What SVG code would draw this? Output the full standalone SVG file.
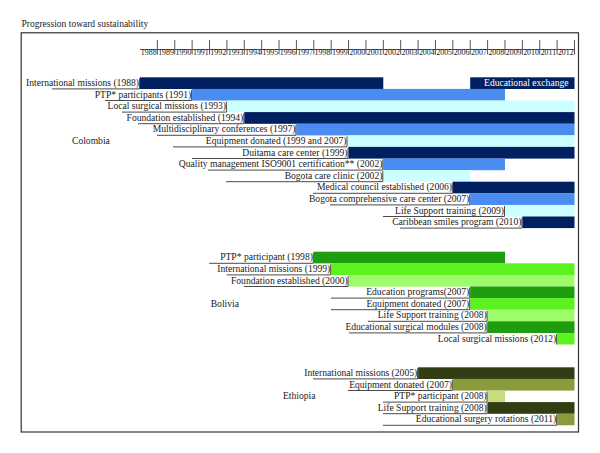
<svg xmlns="http://www.w3.org/2000/svg" width="600" height="453" viewBox="0 0 600 453">
<style>
text{font-family:"Liberation Serif","Times New Roman",serif;fill:#1a1a1a}
.t{font-size:9.5px}
.l{font-size:9.6px;text-anchor:end}
.c{font-size:9.6px}
.y{font-size:7.9px;text-anchor:middle}
.w{fill:#fff}
.ax{stroke:#444;stroke-width:0.9;fill:none}
.ul{stroke:#4a4a4a;stroke-width:1;fill:none}
.nv{fill:#002060}.bl{fill:#4a8cf0}.cy{fill:#ccffff}
.g1{fill:#1e9e0e}.g2{fill:#5cf21f}.g3{fill:#9efb6c}
.o1{fill:#323d14}.o2{fill:#8b9b3c}.o3{fill:#c6dc7e}
</style>
<rect width="600" height="453" fill="#fff"/>
<text class="t" x="21.5" y="27.3">Progression toward sustainability</text>
<rect x="21.2" y="32.8" width="557.3" height="399.2" fill="none" stroke="#333" stroke-width="1.2"/>
<g id="axis">
<path class="ax" d="M140 49.5H574.5M157.38 40V54.5M174.76 40V54.5M192.14 40V54.5M209.52 40V54.5M226.9 40V54.5M244.28 40V54.5M261.66 40V54.5M279.04 40V54.5M296.42 40V54.5M313.8 40V54.5M331.18 40V54.5M348.56 40V54.5M365.94 40V54.5M383.32 40V54.5M400.7 40V54.5M418.08 40V54.5M435.46 40V54.5M452.84 40V54.5M470.22 40V54.5M487.6 40V54.5M504.98 40V54.5M522.36 40V54.5M539.74 40V54.5M557.12 40V54.5M574.5 40V54.5"/>
<text class="y" x="148.69" y="54.6">1988</text><text class="y" x="166.07" y="54.6">1989</text><text class="y" x="183.45" y="54.6">1990</text><text class="y" x="200.83" y="54.6">1991</text><text class="y" x="218.21" y="54.6">1992</text><text class="y" x="235.59" y="54.6">1993</text><text class="y" x="252.97" y="54.6">1994</text><text class="y" x="270.35" y="54.6">1995</text><text class="y" x="287.73" y="54.6">1996</text><text class="y" x="305.11" y="54.6">1997</text><text class="y" x="322.49" y="54.6">1998</text><text class="y" x="339.87" y="54.6">1999</text><text class="y" x="357.25" y="54.6">2000</text><text class="y" x="374.63" y="54.6">2001</text><text class="y" x="392.01" y="54.6">2002</text><text class="y" x="409.39" y="54.6">2003</text><text class="y" x="426.77" y="54.6">2004</text><text class="y" x="444.15" y="54.6">2005</text><text class="y" x="461.53" y="54.6">2006</text><text class="y" x="478.91" y="54.6">2007</text><text class="y" x="496.29" y="54.6">2008</text><text class="y" x="513.67" y="54.6">2009</text><text class="y" x="531.05" y="54.6">2010</text><text class="y" x="548.43" y="54.6">2011</text><text class="y" x="565.81" y="54.6">2012</text>
</g>
<g id="colombia">
<text class="c" x="72" y="143.9">Colombia</text>
<g id="co-intl"><rect class="nv" x="140" y="77.3" width="243.3" height="11.7"/><rect class="nv" x="470.2" y="77.3" width="104.3" height="11.7"/><path class="ul" d="M52 88.9H139.5V78.3"/><text class="l" x="139" y="85.9">International missions (1988)</text><text class="l w" x="568.5" y="85.9">Educational exchange</text></g>
<g id="co-ptp"><rect class="bl" x="192.1" y="88.9" width="312.9" height="11.7"/><path class="ul" d="M105 100.5H191.6V89.9"/><text class="l" x="191.2" y="97.5">PTP* participants (1991)</text></g>
<g id="co-local"><rect class="cy" x="226.9" y="100.5" width="347.6" height="11.7"/><path class="ul" d="M122 112.1H226.4V101.5"/><text class="l" x="226" y="109.1">Local surgical missions (1993)</text></g>
<g id="co-found"><rect class="nv" x="244.3" y="112.1" width="330.2" height="11.7"/><path class="ul" d="M138 123.7H243.8V113.1"/><text class="l" x="243.3" y="120.7">Foundation established (1994)</text></g>
<g id="co-multi"><rect class="bl" x="296.4" y="123.7" width="278.1" height="11.7"/><path class="ul" d="M157 135.3H295.9V124.7"/><text class="l" x="295.5" y="132.3">Multidisciplinary conferences (1997)</text></g>
<g id="co-equip"><rect class="cy" x="347.5" y="135.3" width="227" height="11.7"/><path class="ul" d="M173 146.9H347V136.3"/><text class="l" x="346.5" y="143.9">Equipment donated (1999 and 2007)</text></g>
<g id="co-duitama"><rect class="nv" x="348.5" y="146.9" width="226" height="11.7"/><path class="ul" d="M192 158.5H348V147.9"/><text class="l" x="347.5" y="155.5">Duitama care center (1999)</text></g>
<g id="co-iso"><rect class="bl" x="383.3" y="158.5" width="121.7" height="11.7"/><path class="ul" d="M208 170.1H382.8V159.5"/><text class="l" x="382.4" y="167.1">Quality management ISO9001 certification** (2002)</text></g>
<g id="co-clinic"><rect class="cy" x="383.3" y="170.1" width="86.9" height="11.7"/><path class="ul" d="M226 181.7H382.8V171.1"/><text class="l" x="382.4" y="178.7">Bogota care clinic (2002)</text></g>
<g id="co-council"><rect class="nv" x="452.8" y="181.7" width="121.7" height="11.7"/><path class="ul" d="M313 193.3H452.3V182.7"/><text class="l" x="452" y="190.3">Medical council established (2006)</text></g>
<g id="co-comp"><rect class="bl" x="470.2" y="193.3" width="104.3" height="11.7"/><path class="ul" d="M330 204.9H469.7V194.3"/><text class="l" x="469.3" y="201.9">Bogota comprehensive care center (2007)</text></g>
<g id="co-life"><rect class="cy" x="505" y="204.9" width="69.5" height="11.7"/><path class="ul" d="M383 216.5H504.5V205.9"/><text class="l" x="504" y="213.5">Life Support training (2009)</text></g>
<g id="co-carib"><rect class="nv" x="522.4" y="216.5" width="52.1" height="11.6"/><path class="ul" d="M400 228.1H521.9V217.5"/><text class="l" x="521.4" y="225.1">Caribbean smiles program (2010)</text></g>
</g>
<g id="bolivia">
<text class="c" x="210.7" y="306.7">Bolivia</text>
<g id="bo-ptp"><rect class="g1" x="313.8" y="251.7" width="191.2" height="11.7"/><path class="ul" d="M209.3 263.3H313.3V252.7"/><text class="l" x="312.9" y="260.3">PTP* participant (1998)</text></g>
<g id="bo-intl"><rect class="g2" x="331.2" y="263.3" width="243.3" height="11.7"/><path class="ul" d="M226.7 274.9H330.7V264.3"/><text class="l" x="330.3" y="271.9">International missions (1999)</text></g>
<g id="bo-found"><rect class="g3" x="348.6" y="274.9" width="225.9" height="11.7"/><path class="ul" d="M244 286.5H348.1V275.9"/><text class="l" x="347.7" y="283.5">Foundation established (2000)</text></g>
<g id="bo-edu"><rect class="g1" x="470.2" y="286.5" width="104.3" height="11.7"/><path class="ul" d="M331 298.1H469.7V287.5"/><text class="l" x="469.3" y="295.1">Education programs(2007)</text></g>
<g id="bo-equip"><rect class="g2" x="470.2" y="298.1" width="104.3" height="11.7"/><path class="ul" d="M331 309.7H469.7V299.1"/><text class="l" x="469.3" y="306.7">Equipment donated (2007)</text></g>
<g id="bo-life"><rect class="g3" x="487.6" y="309.7" width="86.9" height="11.7"/><path class="ul" d="M368 321.3H487.1V310.7"/><text class="l" x="486.7" y="318.3">Life Support training (2008)</text></g>
<g id="bo-mod"><rect class="g1" x="487.6" y="321.3" width="86.9" height="11.7"/><path class="ul" d="M349 332.9H487.1V322.3"/><text class="l" x="486.7" y="329.9">Educational surgical modules (2008)</text></g>
<g id="bo-local"><rect class="g2" x="557.1" y="332.9" width="17.4" height="11.6"/><path class="ul" d="M556.6 344.5V333.9"/><text class="l" x="556.2" y="341.5">Local surgical missions (2012)</text></g>
</g>
<g id="ethiopia">
<text class="c" x="283" y="399.1">Ethiopia</text>
<g id="et-intl"><rect class="o1" x="418.1" y="367.3" width="156.4" height="11.7"/><path class="ul" d="M313 378.9H417.6V368.3"/><text class="l" x="417.2" y="375.9">International missions (2005)</text></g>
<g id="et-equip"><rect class="o2" x="452.8" y="378.9" width="121.7" height="11.7"/><path class="ul" d="M348 390.5H452.3V379.9"/><text class="l" x="452" y="387.5">Equipment donated (2007)</text></g>
<g id="et-ptp"><rect class="o3" x="487.6" y="390.5" width="17.4" height="11.7"/><path class="ul" d="M383 402.1H487.1V391.5"/><text class="l" x="486.7" y="399.1">PTP* participant (2008)</text></g>
<g id="et-life"><rect class="o1" x="487.6" y="402.1" width="86.9" height="11.7"/><path class="ul" d="M383 413.7H487.1V403.1"/><text class="l" x="486.7" y="410.7">Life Support training (2008)</text></g>
<g id="et-rot"><rect class="o2" x="557.1" y="413.7" width="17.4" height="11.6"/><path class="ul" d="M383 425.3H556.6V414.7"/><text class="l" x="556.2" y="422.3">Educational surgery rotations (2011)</text></g>
</g>
</svg>
